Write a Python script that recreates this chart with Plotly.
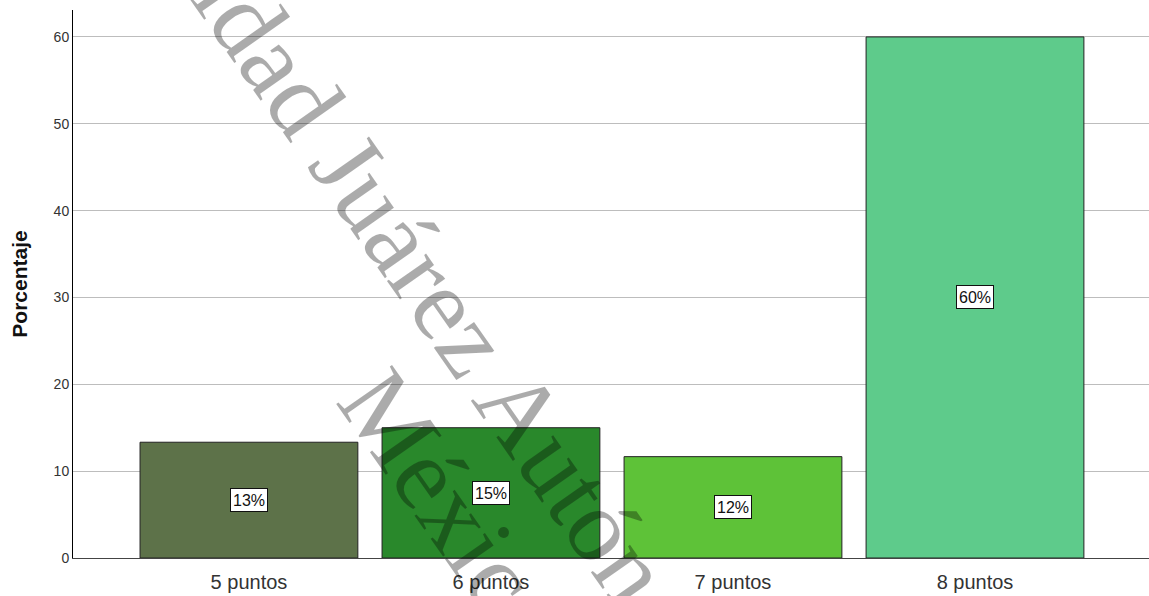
import plotly.graph_objects as go

categories = ["5 puntos", "6 puntos", "7 puntos", "8 puntos"]
percentages = [13.33, 15.0, 11.67, 60.0]
bar_labels = ["13%", "15%", "12%", "60%"]
bar_colors = ["#5d7249", "#29882b", "#5ec238", "#5ecb8b"]
y_ticks = [0, 10, 20, 30, 40, 50, 60]
watermark_line1 = "Universidad Juárez Autónoma de Tabasco"
watermark_line2 = "México"

fig = go.Figure()
fig.add_trace(go.Bar(
    x=categories, y=percentages, width=0.9,
    marker=dict(color=bar_colors, line=dict(color="#222222", width=1)),
    hoverinfo="skip", showlegend=False,
))

for c, v, t in zip(categories, percentages, bar_labels):
    fig.add_annotation(
        x=c, y=v / 2, xref="x", yref="y", text=t, showarrow=False,
        font=dict(family="Liberation Sans, Arial, sans-serif", size=16, color="#111111"),
        bgcolor="white", bordercolor="#111111", borderwidth=1, borderpad=1,
        width=34, height=20,
    )

fig.update_layout(
    width=1149, height=596,
    margin=dict(l=73, r=0, t=10, b=38),
    plot_bgcolor="white", paper_bgcolor="white",
    font=dict(family="Liberation Sans, Arial, sans-serif", color="#222222"),
    bargap=0.1,
)
fig.update_xaxes(
    range=[-0.727, 3.719], showgrid=False, showline=True, linecolor="#444444",
    linewidth=1, ticks="", tickfont=dict(size=20, color="#333333"),
    ticklabelstandoff=6,
)
fig.update_yaxes(
    range=[0, 63.1], tickvals=y_ticks, showgrid=True, gridcolor="#bdbdbd",
    gridwidth=1, showline=True, linecolor="#000000", linewidth=1, ticks="",
    tickfont=dict(size=14, color="#333333"), zeroline=False,
    title=dict(text="<b>Porcentaje</b>", font=dict(size=21, color="#111111"), standoff=20),
)

# watermark
wm_font = dict(family="Liberation Serif, Times New Roman, serif", size=104, color="rgba(0,0,0,0.33)")
fig.add_annotation(
    x=488 / 1149, y=1 - 450 / 596, xref="paper", yref="paper",
    text=watermark_line1, showarrow=False, textangle=55, font=wm_font,
    xanchor="center", yanchor="middle",
)
fig.add_annotation(
    x=408 / 1149, y=1 - 545 / 596, xref="paper", yref="paper",
    text=watermark_line2, showarrow=False, textangle=55, font=wm_font,
    xanchor="center", yanchor="middle",
)

fig.write_html("out.html")
